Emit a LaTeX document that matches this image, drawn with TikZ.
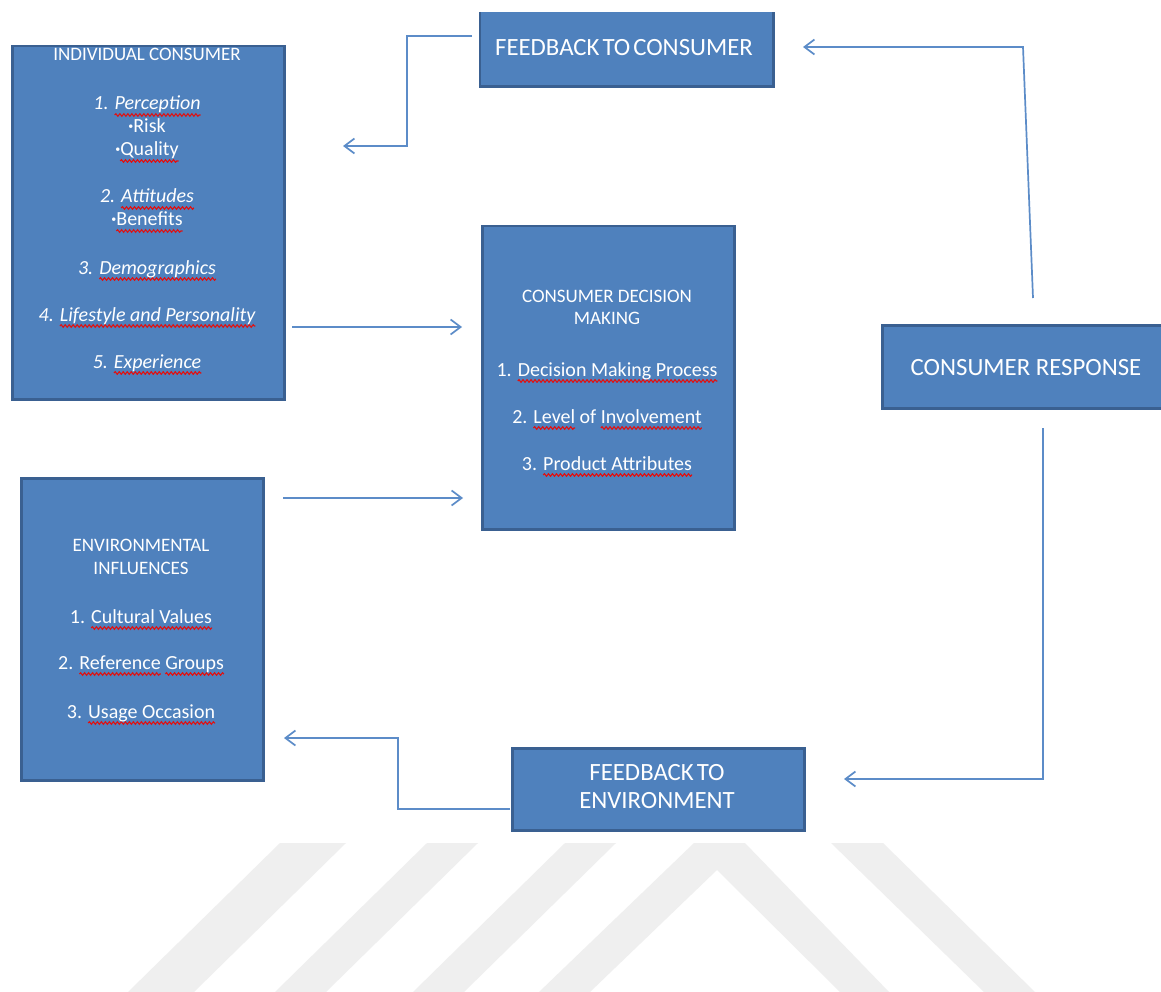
\documentclass[tikz,border=0pt]{standalone}
\usepackage{fontspec}
\setmainfont{Carlito}
\usetikzlibrary{arrows.meta,decorations.pathmorphing}

\definecolor{boxblue}{HTML}{4F81BD}
\definecolor{boxedge}{HTML}{3A6091}
\definecolor{flowblue}{HTML}{5C8CC8}
\definecolor{squig}{HTML}{E01010}
\definecolor{wmgray}{HTML}{EFEFEF}

\tikzset{
  box/.style={fill=boxblue, draw=boxedge, line width=2.5pt, inner sep=0pt, anchor=north west},
  boxfill/.style={fill=boxblue, inner sep=0pt, anchor=north west},
  boxline/.style={draw=boxedge, line width=2.5pt},
  lbl/.style={text=white, inner sep=0pt, anchor=base, font=\smallfs},
  itemlbl/.style={lbl, font=\itemfs},
  biglbl/.style={lbl, font=\bigfs},
  flow/.style={draw=flowblue, line width=1.7pt, line join=miter,
    -{Straight Barb[length=10pt,width=15pt,line width=1.7pt]}},
  squigline/.style={draw=squig, line width=1.1pt,
    decorate, decoration={snake, amplitude=1.3pt, segment length=4pt}},
  wm/.style={fill=wmgray}
}

% red wavy spell-check underline below a word
\newsavebox\spwbox
\newlength\spwlen
\newcommand\spw[1]{\sbox\spwbox{#1}\setlength\spwlen{\wd\spwbox}%
  \rlap{\tikz[overlay,baseline=0pt]\draw[squigline] (0pt,-5pt) -- (\spwlen,-5pt);}%
  \usebox\spwbox}
\newcommand\bulletmark{\raisebox{3pt}{\fontsize{10}{10}\selectfont\textbullet}}
\newcommand\smallfs{\fontsize{19}{23}\selectfont}
\newcommand\itemfs{\fontsize{20}{24}\selectfont}
\newcommand\bigfs{\fontsize{24.8}{28}\selectfont}

\begin{document}
\begin{tikzpicture}[x=1pt,y=-1pt]
\useasboundingbox (0,0) rectangle (1161,992);
\clip (0,0) rectangle (1161,992);
\fill[white] (0,0) rectangle (1161,992);

% faint watermark bands along the bottom
\fill[wm] (280,843) -- (346,843) -- (194,992) -- (128,992) -- cycle;
\fill[wm] (427,843) -- (478,843) -- (326,992) -- (275,992) -- cycle;
\fill[wm] (565,843) -- (616,843) -- (464,992) -- (413,992) -- cycle;
\fill[wm] (694,843) -- (745,843) -- (889,992) -- (840,992) -- (717,870)
          -- (590,992) -- (539,992) -- cycle;
\fill[wm] (831,843) -- (883,843) -- (1035,992) -- (984,992) -- cycle;

% boxes
\node[box, minimum width=272pt, minimum height=353pt] (ic)  at (11,45) {};
\node[box, minimum width=252pt, minimum height=303pt] (cdm) at (481,225) {};
\node[box, minimum width=242pt, minimum height=302pt] (env) at (20,477) {};
\node[boxfill, minimum width=293pt, minimum height=74pt] (fbc) at (480,12) {};
\draw[boxline] (fbc.north west) -- (fbc.south west) -- (fbc.south east) -- (fbc.north east);
\node[box, minimum width=292pt, minimum height=82pt] (fbe) at (511,747) {};
\node[box, minimum width=290pt, minimum height=83pt] (cr)  at (881,324) {};

% individual consumer
\node[lbl] (ic-title) at (147,55+6) {INDIVIDUAL CONSUMER};
\foreach \yy/\tx [count=\k] in {
  104/{\textit{1. \spw{Perception}}},
  127/{\bulletmark Risk},
  150/{\bulletmark\spw{Quality}},
  197/{\textit{2. \spw{Attitudes}}},
  220/{\bulletmark\spw{Benefits}},
  268/{\textit{3. \spw{Demographics}}},
  315/{\textit{4. \spw{Lifestyle and Personality}}},
  362/{\textit{5. \spw{Experience}}}}
  \node[itemlbl] (ic-l\k) at (147,\yy+6) {\tx};

% consumer decision making
\node[lbl] (cdm-t1) at (607,296+6) {CONSUMER DECISION};
\node[lbl] (cdm-t2) at (607,318+6) {MAKING};
\foreach \yy/\tx [count=\k] in {
  370/{1. \spw{Decision Making Process}},
  417/{2. \spw{Level} of \spw{Involvement}},
  464/{3. \spw{Product Attributes}}}
  \node[itemlbl] (cdm-l\k) at (607,\yy+6) {\tx};

% environmental influences
\node[lbl] (env-t1) at (141,545+6) {ENVIRONMENTAL};
\node[lbl] (env-t2) at (141,568+6) {INFLUENCES};
\foreach \yy/\tx [count=\k] in {
  617/{1. \spw{Cultural Values}},
  663/{2. \spw{Reference} \spw{Groups}},
  712/{3. \spw{Usage Occasion}}}
  \node[itemlbl] (env-l\k) at (141,\yy+6) {\tx};

% single-line boxes
\node[biglbl] (fbc-t) at (624,48+7.5) {{\spaceskip=3pt\relax FEEDBACK TO CONSUMER}};
\node[biglbl] (fbe-t1) at (657,773+7.5) {{\spaceskip=3pt\relax FEEDBACK TO}};
\node[biglbl] (fbe-t2) at (657,801+7.5) {ENVIRONMENT};
\node[biglbl] (cr-t) at (1026,368+7.5) {CONSUMER RESPONSE};

% connector end points
\coordinate (fbcOut) at (472,36);
\coordinate (fbcBend) at (407,36);
\coordinate (icIn) at (343,146);
\coordinate (icOut) at (292,327);
\coordinate (cdmInA) at (462,327);
\coordinate (envOut) at (283,498);
\coordinate (cdmInB) at (463,498);
\coordinate (crTop) at (1033,298);
\coordinate (crBend) at (1023,47);
\coordinate (fbcIn) at (803,47);
\coordinate (crBot) at (1043,428);
\coordinate (fbeIn) at (844,779);
\coordinate (fbeOut) at (510,809);
\coordinate (envBend) at (398,809);
\coordinate (envIn) at (284,738);

% connectors
\draw[flow] (fbcOut) -- (fbcBend) |- (icIn);
\draw[flow] (icOut) -- (cdmInA);
\draw[flow] (envOut) -- (cdmInB);
\draw[flow] (crTop) -- (crBend) -- (fbcIn);
\draw[flow] (crBot) |- (fbeIn);
\draw[flow] (fbeOut) -- (envBend) |- (envIn);
\end{tikzpicture}
\end{document}
